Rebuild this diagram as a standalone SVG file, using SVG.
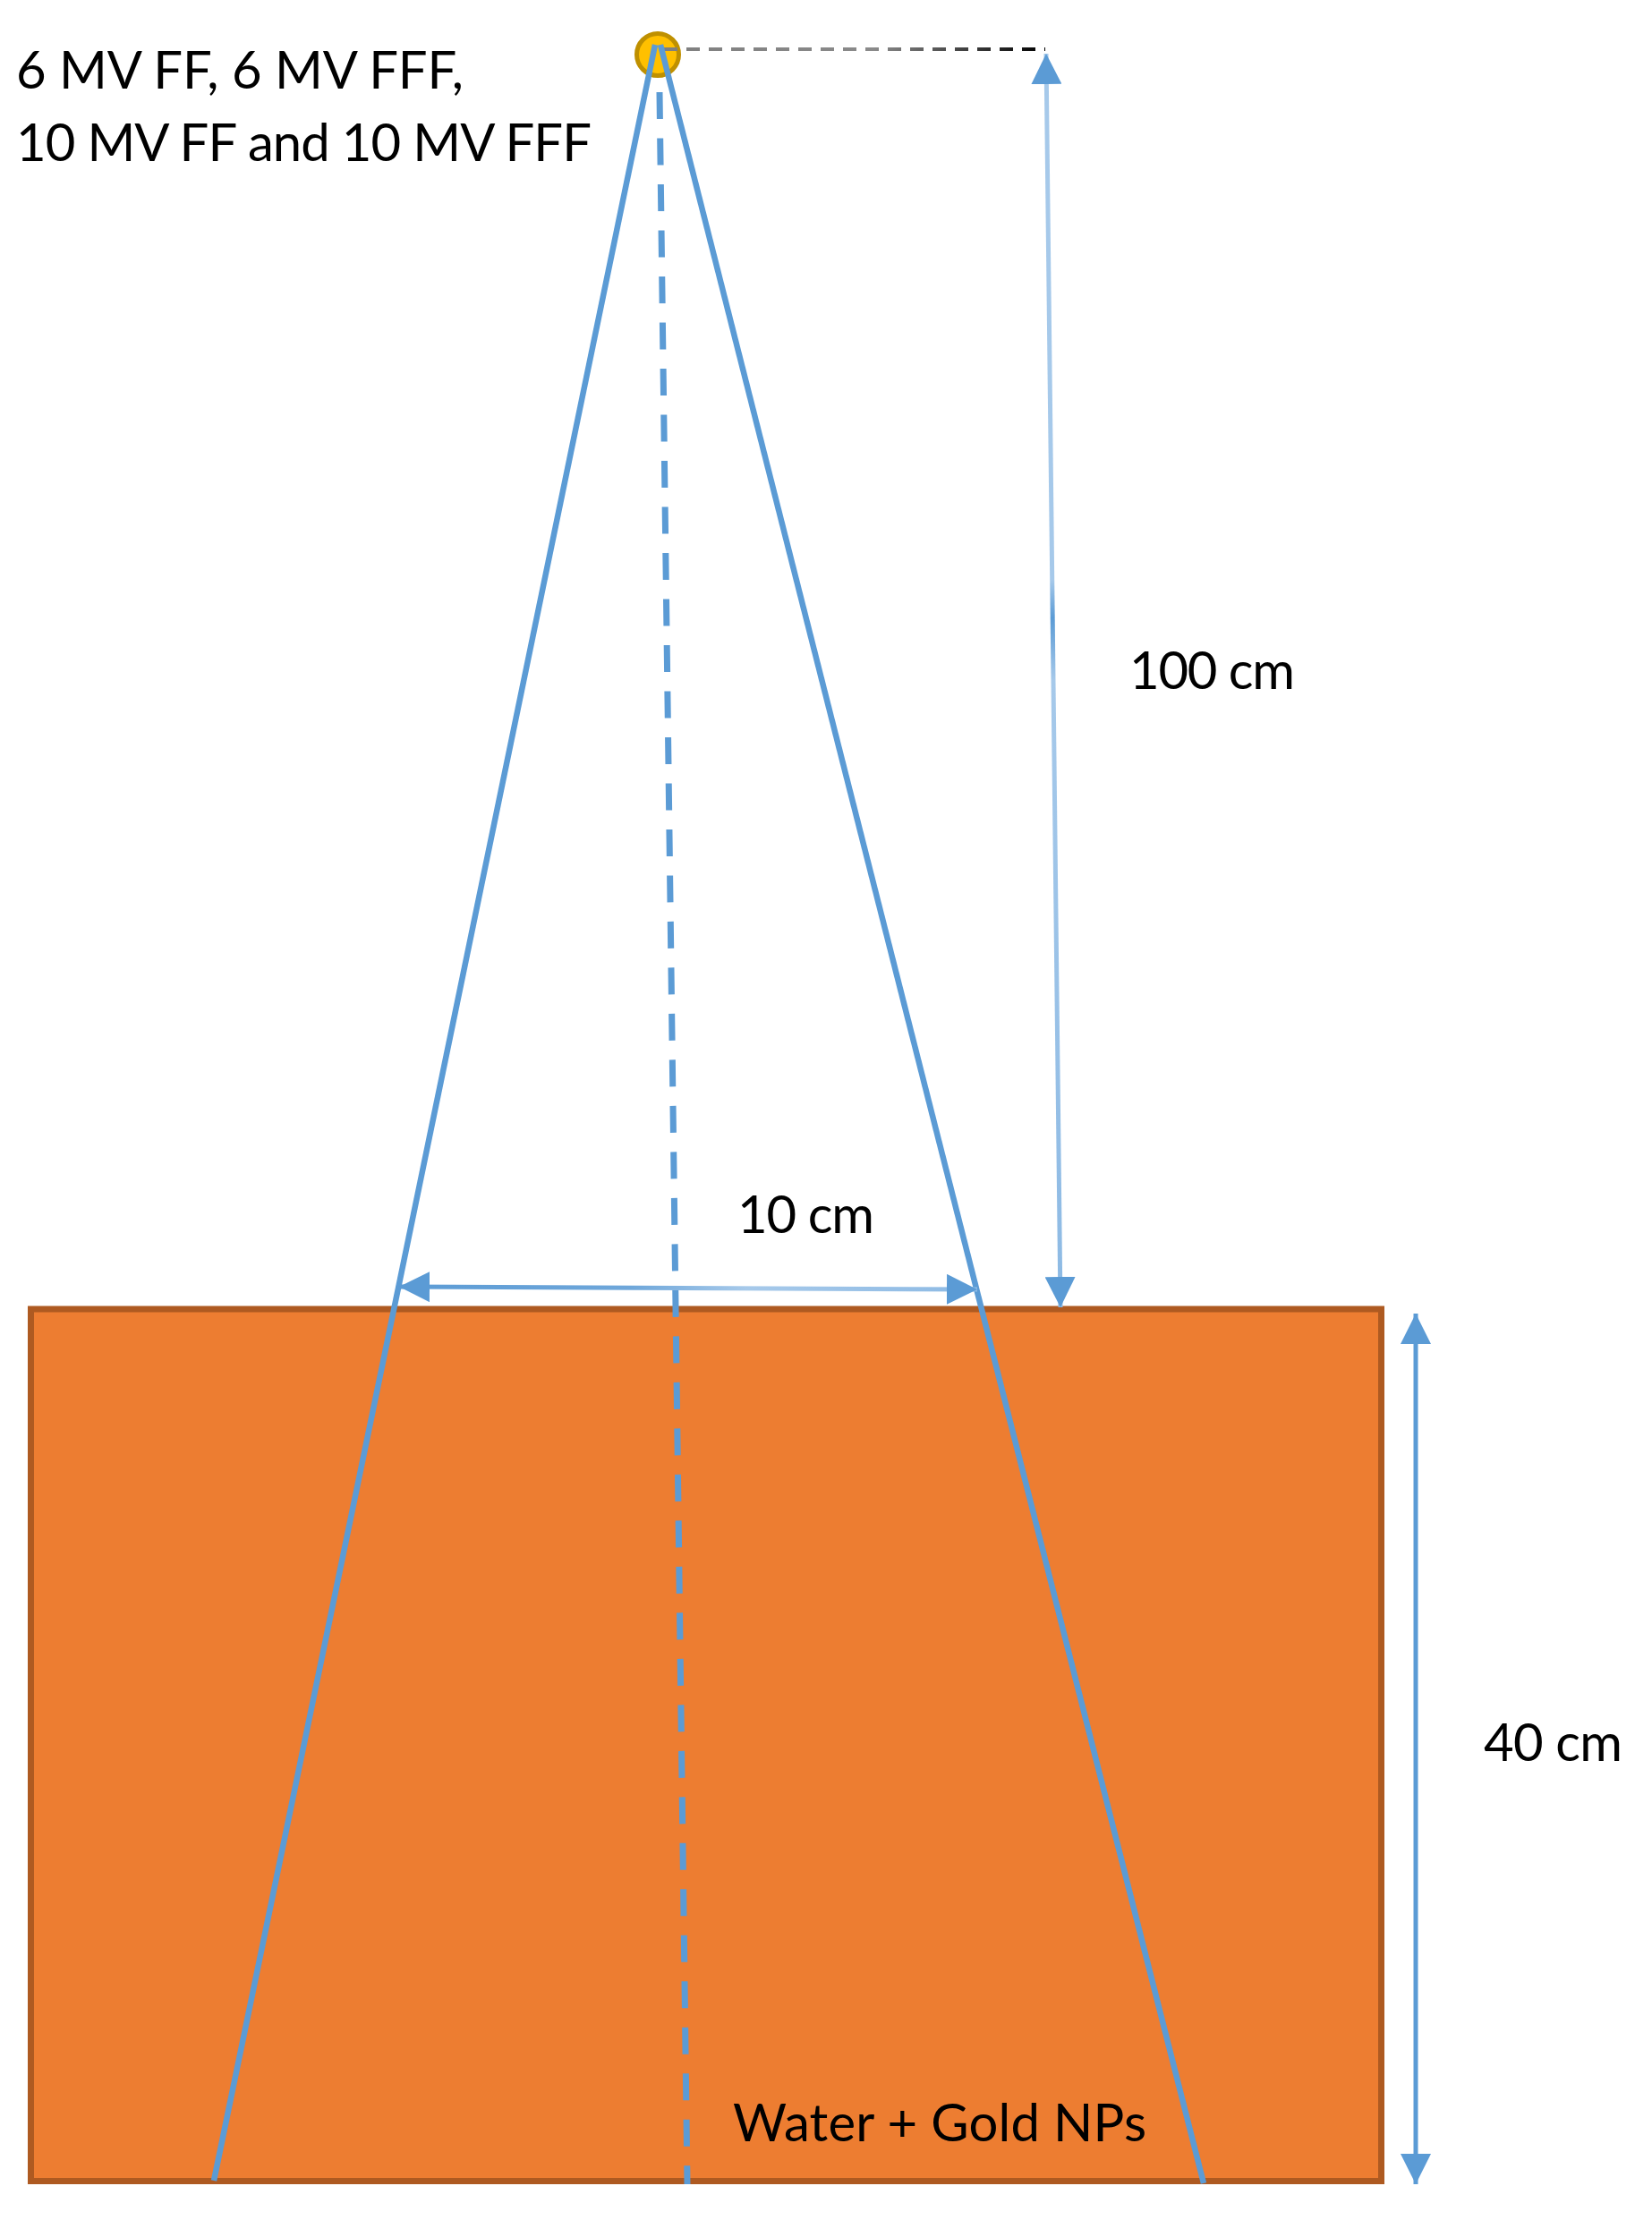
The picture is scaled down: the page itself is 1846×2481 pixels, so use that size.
<svg xmlns="http://www.w3.org/2000/svg" width="1846" height="2481" viewBox="0 0 1846 2481">
  <style>
    .lbl { font-family: Lato, "Open Sans", "Liberation Sans", sans-serif; font-size: 58px; fill: #000; }
    .beam { stroke: #5B9BD5; stroke-width: 6.5; fill: none; }
    .axis { stroke: #5B9BD5; stroke-width: 7; fill: none; stroke-dasharray: 30 21.5; }
    .dim { stroke-width: 5; fill: none; }
  </style>
  <defs>
    <marker id="ah" viewBox="0 0 34 34" refX="34" refY="17" markerWidth="34" markerHeight="34" markerUnits="userSpaceOnUse" orient="auto-start-reverse">
      <path d="M0,0 L34,17 L0,34 Z" fill="#5B9BD5"/>
    </marker>
    <linearGradient id="gDash" gradientUnits="userSpaceOnUse" x1="742" y1="0" x2="1168" y2="0">
      <stop offset="0" stop-color="#7F7F7F"/>
      <stop offset="0.55" stop-color="#8A8A8A"/>
      <stop offset="1" stop-color="#000000"/>
    </linearGradient>
    <linearGradient id="gV" gradientUnits="userSpaceOnUse" x1="0" y1="60" x2="0" y2="1461">
      <stop offset="0" stop-color="#A6C9EA"/>
      <stop offset="0.42" stop-color="#A6C9EA"/>
      <stop offset="0.45" stop-color="#5B9BD5"/>
      <stop offset="0.5" stop-color="#A6C9EA"/>
      <stop offset="1" stop-color="#8DBAE4"/>
    </linearGradient>
    <linearGradient id="gH" gradientUnits="userSpaceOnUse" x1="446" y1="0" x2="1092" y2="0">
      <stop offset="0" stop-color="#5B9BD5"/>
      <stop offset="0.4" stop-color="#6FA7DA"/>
      <stop offset="0.6" stop-color="#A6C9EA"/>
      <stop offset="1" stop-color="#8DBAE4"/>
    </linearGradient>
  </defs>

  <g id="phantom">
    <rect x="34.5" y="1463" width="1509" height="974.5" fill="#ED7D31" stroke="#AE5A21" stroke-width="7"/>
    <text class="lbl" x="819" y="2393" textLength="462">Water + Gold NPs</text>
  </g>

  <g id="source">
    <circle cx="735" cy="61" r="23.5" fill="#FFC000" stroke="#BF9000" stroke-width="5"/>
    <text class="lbl" x="18" y="99" textLength="500">6 MV FF, 6 MV FFF,</text>
    <text class="lbl" x="18" y="180" textLength="643">10 MV FF and 10 MV FFF</text>
  </g>

  <g id="connectors">
    <line x1="742" y1="55" x2="1168" y2="55" stroke="url(#gDash)" stroke-width="4" stroke-dasharray="15 10"/>
    <line class="beam" x1="732" y1="50" x2="239" y2="2437"/>
    <line class="beam" x1="738" y1="50" x2="1345" y2="2440"/>
    <line class="axis" x1="737" y1="103" x2="768" y2="2441"/>
    <line class="dim" x1="1169" y1="60" x2="1185" y2="1461" stroke="url(#gV)" marker-start="url(#ah)" marker-end="url(#ah)"/>
    <line class="dim" x1="446" y1="1438" x2="1092" y2="1441" stroke="url(#gH)" marker-start="url(#ah)" marker-end="url(#ah)"/>
    <line class="dim" x1="1582" y1="1468" x2="1582" y2="2441" stroke="#5B9BD5" stroke-width="4" marker-start="url(#ah)" marker-end="url(#ah)"/>
  </g>

  <g id="labels">
    <text class="lbl" x="1262" y="770" textLength="185">100 cm</text>
    <text class="lbl" x="824" y="1378" textLength="153">10 cm</text>
    <text class="lbl" x="1658" y="1968" textLength="155">40 cm</text>
  </g>
</svg>
